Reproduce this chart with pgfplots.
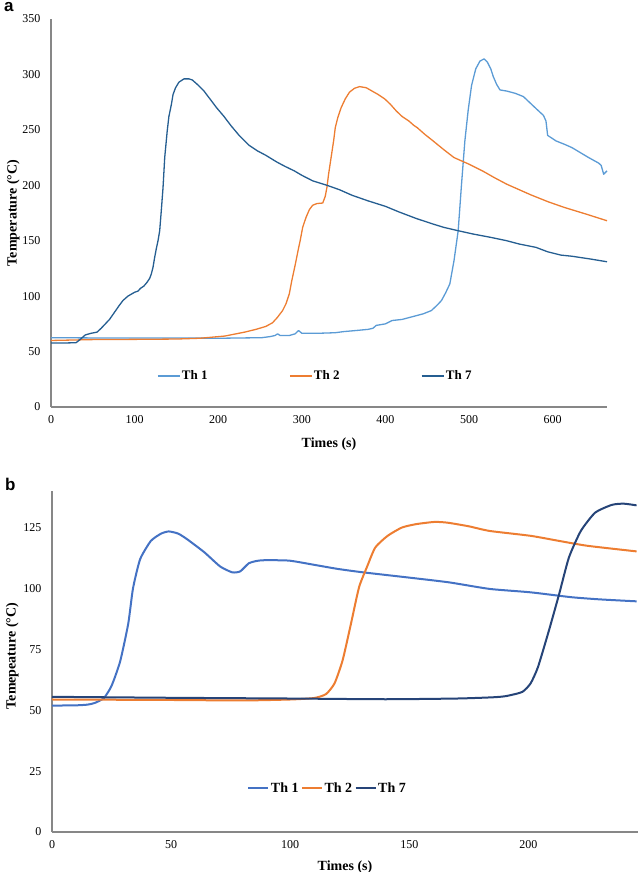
\documentclass[border=0pt]{standalone}
\usepackage{pgfplots}
\pgfplotsset{compat=1.18}
\usepackage{fontspec}
\setmainfont{Liberation Serif}
\newfontfamily\labfont{Liberation Sans}
\definecolor{aone}{HTML}{5B9BD5}
\definecolor{atwo}{HTML}{ED7D31}
\definecolor{aseven}{HTML}{255E91}
\definecolor{bone}{HTML}{4472C4}
\definecolor{btwo}{HTML}{ED7D31}
\definecolor{bseven}{HTML}{264478}
\definecolor{axisgray}{HTML}{878787}
\begin{document}
\begin{tikzpicture}
\path[use as bounding box] (0,0) rectangle (640pt,872pt);
\pgfplotsset{every axis/.append style={
  scale only axis, axis lines=left,
  axis line style={-, draw=axisgray, line width=1.2pt},
  major tick length=0pt,
  tick label style={font=\fontsize{12}{14}\selectfont},
  /pgf/number format/assume math mode=true,
  label style={font=\bfseries\fontsize{14}{16}\selectfont},
  legend style={font=\bfseries\fontsize{13}{15}\selectfont, draw=none, fill=none, inner sep=0pt, nodes={inner sep=1.5pt}},
  legend cell align=left,
  xticklabel style={yshift=-5pt},
  yticklabel style={xshift=-7pt},
  clip=false,
}}
% ---------------- panel a ----------------
\begin{axis}[at={(51pt,465pt)}, anchor=south west,
  width=556pt, height=388pt,
  xmin=0, xmax=665, ymin=0, ymax=350,
  xtick={0,100,...,600}, ytick={0,50,...,350},
  xlabel={Times (s)}, ylabel={Temperature (°C)},
  xlabel style={at={(axis description cs:0.5,-0.095)}, anchor=center},
  ylabel style={at={(axis description cs:-0.068,0.5)}, anchor=center},
  legend columns=3,
  legend style={at={(axis description cs:0.475,0.08)}, anchor=center,
    /tikz/every even column/.append style={column sep=80pt}},
  legend image code/.code={\draw[#1] (0pt,0pt) -- (22pt,0pt);},
  every axis plot/.append style={line width=1.3pt, line join=round},
]
\addplot[aone] coordinates {
(0,62.5)(50,62.3)(100,62.2)(150,62.3)(200,62)(230,62.3)(252,62.5)(262,63.5)(268,64.5)(271,66)(274,64.5)(285,64.5)(292,66)(296,69)(300,66.5)(320,66.5)(340,67)(350,68)(365,69)(379,70)(385,71)(389,73.6)(400,75)(408,78)(420,79)(438,82.6)(445,84)(455,87)(462,92)(467,96)(472,103)(477,111)(482,132)(487,159)(491,201)(495,240)(499,268)(503,290)(508,305)(513,312)(518,314)(522,311)(526,305)(529,298)(533,291)(537,286)(545,285)(555,283)(565,280)(579,270)(589,263)(592,258)(594,245)(604,240)(614,237)(623,234)(643,225)(655,220)(658,218)(661,210)(665,213)
};
\addlegendentry{Th 1}
\addplot[atwo] coordinates {
(0,60)(50,60.8)(100,61)(150,61.3)(178,62)(208,64)(232,67.6)(245,70)(257,72.7)(265,76)(271,81)(277,87)(281,93)(285,102)(288,114)(292,128)(296,143)(298,150)(301,162)(305,171)(309,178)(313,182)(318,183.5)(325,184)(328,190)(330,198)(332,210)(335,225)(338,240)(340,252)(343,261)(347,270)(352,278)(357,284)(363,287.5)(369,289)(377,288)(384,285)(391,282)(399,278)(406,273)(413,267)(420,262)(428,258)(434,254)(438,252)(447,246)(457,240)(470,232)(482,225)(500,219)(516,213)(530,207)(545,201)(560,196)(575,191)(595,185)(614,180)(640,174)(665,168)
};
\addlegendentry{Th 2}
\addplot[aseven] coordinates {
(0,57.7)(20,57.8)(30,58)(35,61)(41,65)(48,66.5)(55,67.5)(60,71)(65,75)(70,79)(76,85.5)(82,92)(86,96)(92,100)(100,103.5)(104,104.5)(107,107)(111,109)(115,112.6)(118,116)(120,120)(122,126)(124,135)(126,143)(128,150)(130,159)(132,178)(134,198)(136,225)(139,249)(141,262)(144,273)(146,282)(149,288)(153,293)(159,296)(165,296)(169,295)(175,291)(183,285)(190,278)(198,270)(207,262)(215,254)(225,245)(237,236)(247,231)(257,227)(270,221)(280,217)(291,213)(300,209)(313,204)(330,200)(345,196)(360,191)(379,186)(400,181)(416,176)(437,170)(457,165)(470,162)(487,159)(505,156)(526,153)(545,150)(560,147)(580,144)(594,140)(610,137)(623,136)(645,133.5)(665,131)
};
\addlegendentry{Th 7}
\end{axis}
% ---------------- panel b ----------------
\begin{axis}[at={(52pt,40pt)}, anchor=south west,
  width=586pt, height=341pt,
  xmin=0, xmax=246, ymin=0, ymax=140,
  xtick={0,50,...,200}, ytick={0,25,...,125},
  xlabel={Times (s)}, ylabel={Temepeature (°C)},
  xlabel style={at={(axis description cs:0.5,-0.103)}, anchor=center},
  ylabel style={at={(axis description cs:-0.068,0.516)}, anchor=center},
  legend columns=3,
  legend style={at={(axis description cs:0.470,0.129)}, anchor=center,
    font=\bfseries\fontsize{14}{16}\selectfont,
    /tikz/every even column/.append style={column sep=1pt}},
  legend image code/.code={\draw[#1] (0pt,0pt) -- (20pt,0pt);},
  every axis plot/.append style={line width=2pt, line join=round, smooth, tension=0.35},
]
\addplot[bone] coordinates {
(0,51.9)(10,52)(15,52.3)(18,53)(21.8,55)(25,60)(28.6,70)(32,85.5)(34,100)(37,112)(41.5,119.5)(45.8,122.5)(49,123.4)(53,122.5)(57,120)(64,114.8)(70.6,109)(75.7,106.6)(79,107)(82.6,110.3)(86,111.3)(89.5,111.6)(99.7,111.4)(110,109.7)(120,108)(130.6,106.6)(149.4,104.5)(166.6,102.5)(183.7,99.8)(200.9,98.4)(218,96.4)(230,95.5)(245.4,94.7)
};
\addlegendentry{Th 1}
\addplot[btwo] coordinates {
(0,54.4)(50,54.2)(80,54)(100,54.4)(110,55)(115,56.6)(118.6,61)(122,70.5)(125.5,85.5)(128.9,100.5)(132.3,109)(135.7,116.8)(140.9,121.6)(146.9,125)(152.9,126.4)(160.6,127.3)(166,127)(175,125.5)(183.7,123.6)(200.9,121.6)(212.9,119.5)(224.8,117.5)(245.4,115.2)
};
\addlegendentry{Th 2}
\addplot[bseven] coordinates {
(0,55.5)(50,55.1)(100,54.8)(140,54.5)(170,54.8)(185,55.3)(190.6,55.8)(197.4,57.5)(200.9,61)(204,67.7)(208.6,82.7)(212.9,97.7)(217,112.7)(222,123.6)(228,131.1)(235,134.3)(240,134.8)(245.4,134.1)
};
\addlegendentry{Th 7}
\end{axis}
\node[anchor=base west, inner sep=0pt, font=\labfont\bfseries\fontsize{17}{17}\selectfont] at (4pt,860pt) {a};
\node[anchor=base west, inner sep=0pt, font=\labfont\bfseries\fontsize{17}{17}\selectfont] at (5pt,381pt) {b};
\end{tikzpicture}
\end{document}
